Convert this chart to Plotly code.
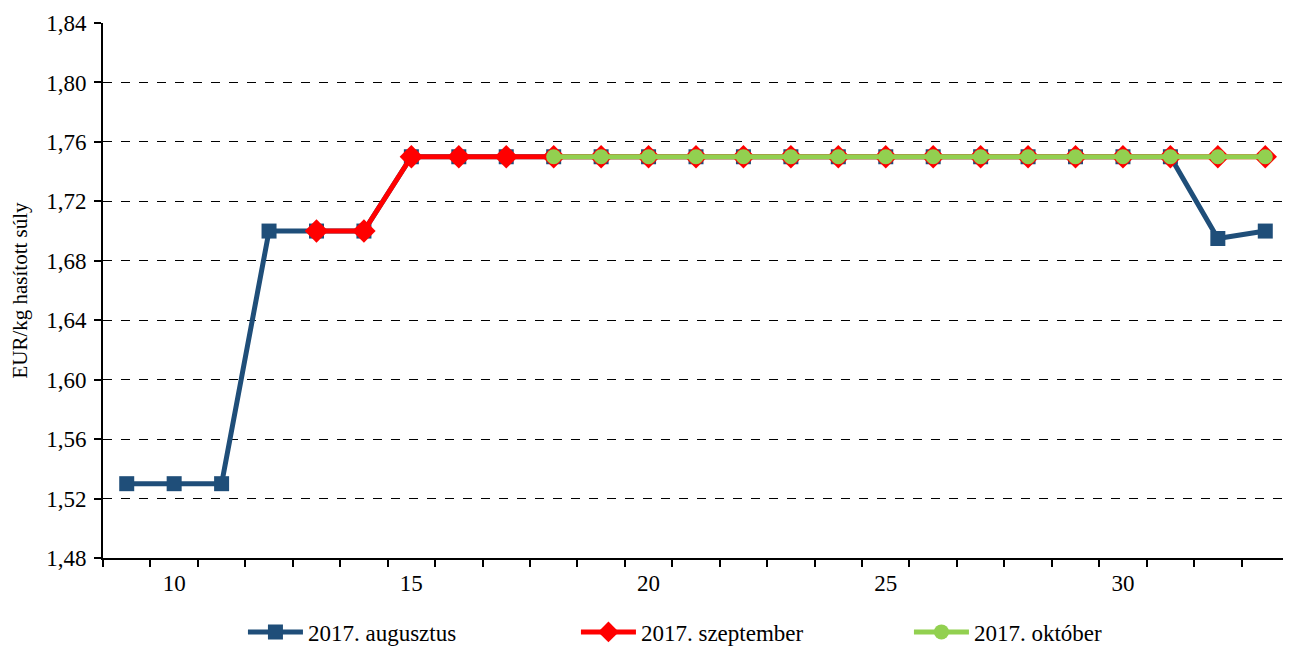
import plotly.graph_objects as go

weeks_aug = list(range(9, 34))
aug = [1.53, 1.53, 1.53, 1.70, 1.70, 1.70, 1.75, 1.75, 1.75, 1.75, 1.75, 1.75, 1.75,
       1.75, 1.75, 1.75, 1.75, 1.75, 1.75, 1.75, 1.75, 1.75, 1.75, 1.695, 1.70]
weeks_sep = list(range(13, 34))
sep = [1.70, 1.70, 1.75, 1.75, 1.75, 1.75, 1.75, 1.75, 1.75, 1.75, 1.75, 1.75, 1.75,
       1.75, 1.75, 1.75, 1.75, 1.75, 1.75, 1.75, 1.75]
weeks_oct = list(range(18, 34))
octo = [1.75] * 16

x_labels = [10, 15, 20, 25, 30]
y_ticks = [1.48, 1.52, 1.56, 1.60, 1.64, 1.68, 1.72, 1.76, 1.80, 1.84]

font = "Liberation Serif, Times New Roman, serif"

fig = go.Figure()
fig.add_trace(go.Scatter(x=weeks_aug, y=aug, mode="lines+markers", name="2017. augusztus",
                         line=dict(color="#1F4E79", width=5),
                         marker=dict(symbol="square", size=15, color="#1F4E79")))
fig.add_trace(go.Scatter(x=weeks_sep, y=sep, mode="lines+markers", name="2017. szeptember",
                         line=dict(color="#FF0000", width=5),
                         marker=dict(symbol="diamond", size=18, color="#FF0000")))
fig.add_trace(go.Scatter(x=weeks_oct, y=octo, mode="lines+markers", name="2017. október",
                         line=dict(color="#92D050", width=5),
                         marker=dict(symbol="circle", size=15, color="#92D050")))

fig.update_layout(
    width=1283, height=638,
    margin=dict(l=95, r=2, t=15, b=88),
    paper_bgcolor="white", plot_bgcolor="white",
    separators=", ",
    font=dict(family=font, size=23, color="black"),
    showlegend=True,
    legend=dict(orientation="h", x=0.118, xanchor="left",
                yref="container", y=0.022, yanchor="middle",
                font=dict(family=font, size=23), itemwidth=55, entrywidth=263,
                traceorder="normal"),
    xaxis=dict(range=[8.5, 33.5], tickmode="array", tickvals=x_labels,
               ticks="", showgrid=False, zeroline=False, automargin=False,
               ticklabelstandoff=3,
               showline=True, linecolor="black", linewidth=2,
               tickfont=dict(family=font, size=23),
               minor=dict(ticks="outside", tick0=8.5, dtick=1, ticklen=7,
                          tickwidth=2, tickcolor="black", showgrid=False)),
    yaxis=dict(range=[1.48, 1.84], tickmode="array", tickvals=y_ticks, tickformat=".2f",
               ticks="outside", ticklen=7, tickwidth=2, tickcolor="black",
               ticklabelstandoff=3, automargin=False,
               showline=True, linecolor="black", linewidth=2, zeroline=False,
               showgrid=True, gridcolor="black", gridwidth=1, griddash="dash",
               tickfont=dict(family=font, size=23),
               title=dict(text="EUR/kg hasított súly", font=dict(family=font, size=21), standoff=14)),
)

fig.write_html("out.html")
